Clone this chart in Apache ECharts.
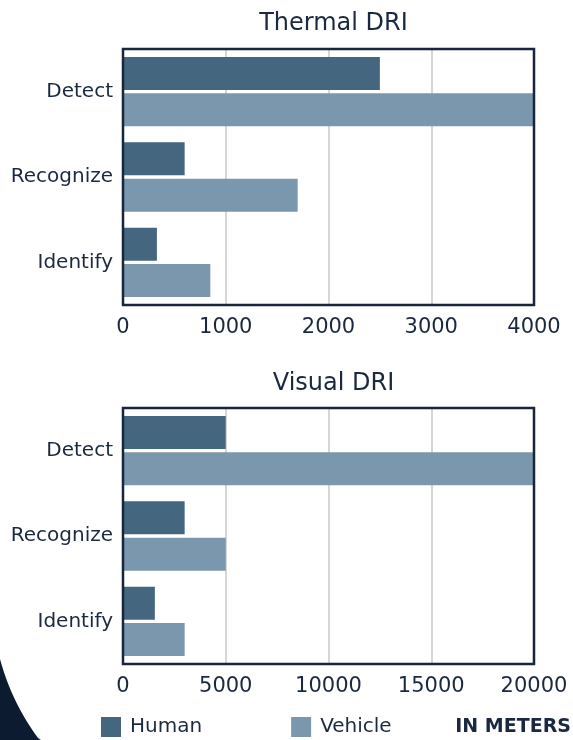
<html>
<head>
    <meta charset="utf-8">
    <title>DRI</title>
    <script src="https://cdn.jsdelivr.net/npm/echarts@6/dist/echarts.min.js"></script>
    <style>
        html, body { margin: 0; padding: 0; background: #fff; }
        #main { width: 573px; height: 740px; }
    </style>
</head>
<body>
    <div id="main"></div>
    <script>
        // data
        var CATEGORIES = ['Detect', 'Recognize', 'Identify']
        var THERMAL_HUMAN = [2500, 600, 330]
        var THERMAL_VEHICLE = [4000, 1700, 850]
        var VISUAL_HUMAN = [5000, 3000, 1550]
        var VISUAL_VEHICLE = [20000, 5000, 3000]

        var TEXT = '#1b2940'
        var FONT = 'DejaVu Sans'
        var HUMAN = '#44667f'
        var VEHICLE = '#7b97ae'

        var myChart = echarts.init(document.getElementById('main'))

        // decorative arc in the lower left corner (edge of a big circle)
        var corner = [[0, 740]]
        for (var y = 658; y <= 740; y += 4) {
            var dy = y - 598
            corner.push([228 - Math.sqrt(236 * 236 - dy * dy), y])
        }
        corner.push([41, 740])

        function MakeGrid(top) {
            return {
                left: 123, top: top, width: 411, height: 256, z: 10,
                show: true, borderColor: '#17263c', borderWidth: 2.5,
                backgroundColor: 'transparent',
            }
        }
        function MakeX(idx, max, interval) {
            return {
                type: 'value', gridIndex: idx, min: 0, max: max, interval: interval,
                axisLine: { show: false }, axisTick: { show: false },
                splitLine: { showMinLine: false, showMaxLine: false, lineStyle: { color: '#c9c9c9', width: 1.5 } },
                axisLabel: { color: TEXT, fontFamily: FONT, fontSize: 21, margin: 12, formatter: v => String(v) },
            }
        }
        function MakeY(idx) {
            return {
                type: 'category', gridIndex: idx, data: CATEGORIES, inverse: true,
                axisLine: { show: false }, axisTick: { show: false },
                axisLabel: { color: TEXT, fontFamily: FONT, fontSize: 20, margin: 10 },
            }
        }
        function MakeBar(name, idx, data, color) {
            return {
                name: name, type: 'bar', xAxisIndex: idx, yAxisIndex: idx,
                data: data, barWidth: 33, barGap: '10%',
                itemStyle: { color: color },
            }
        }

        var options = {
            animation: false,
            backgroundColor: '#fff',
            title: [
                { text: 'Thermal DRI', left: 328.5, textAlign: 'center', top: 7,
                  textStyle: { color: TEXT, fontFamily: FONT, fontSize: 24, fontWeight: 'normal' } },
                { text: 'Visual DRI', left: 328.5, textAlign: 'center', top: 367,
                  textStyle: { color: TEXT, fontFamily: FONT, fontSize: 24, fontWeight: 'normal' } },
            ],
            grid: [MakeGrid(49), MakeGrid(408)],
            xAxis: [MakeX(0, 4000, 1000), MakeX(1, 20000, 5000)],
            yAxis: [MakeY(0), MakeY(1)],
            legend: {
                data: ['Human', 'Vehicle'], left: 101, top: 717, padding: 0,
                icon: 'rect', itemWidth: 20, itemHeight: 20, itemGap: 89,
                textStyle: { color: TEXT, fontFamily: FONT, fontSize: 20, width: 80, padding: [0, 0, 0, 4] },
            },
            graphic: [
                {
                    type: 'polygon', silent: true, z: -1,
                    shape: { points: corner },
                    style: { fill: '#0d1b30' },
                },
                {
                    type: 'text', right: 2, top: 718,
                    style: { text: 'IN METERS', fill: TEXT, font: 'bold 19px "DejaVu Sans"' },
                },
            ],
            series: [
                MakeBar('Human', 0, THERMAL_HUMAN, HUMAN),
                MakeBar('Vehicle', 0, THERMAL_VEHICLE, VEHICLE),
                MakeBar('Human', 1, VISUAL_HUMAN, HUMAN),
                MakeBar('Vehicle', 1, VISUAL_VEHICLE, VEHICLE),
            ],
        }
        myChart.setOption(options)
    </script>
</body>
</html>
